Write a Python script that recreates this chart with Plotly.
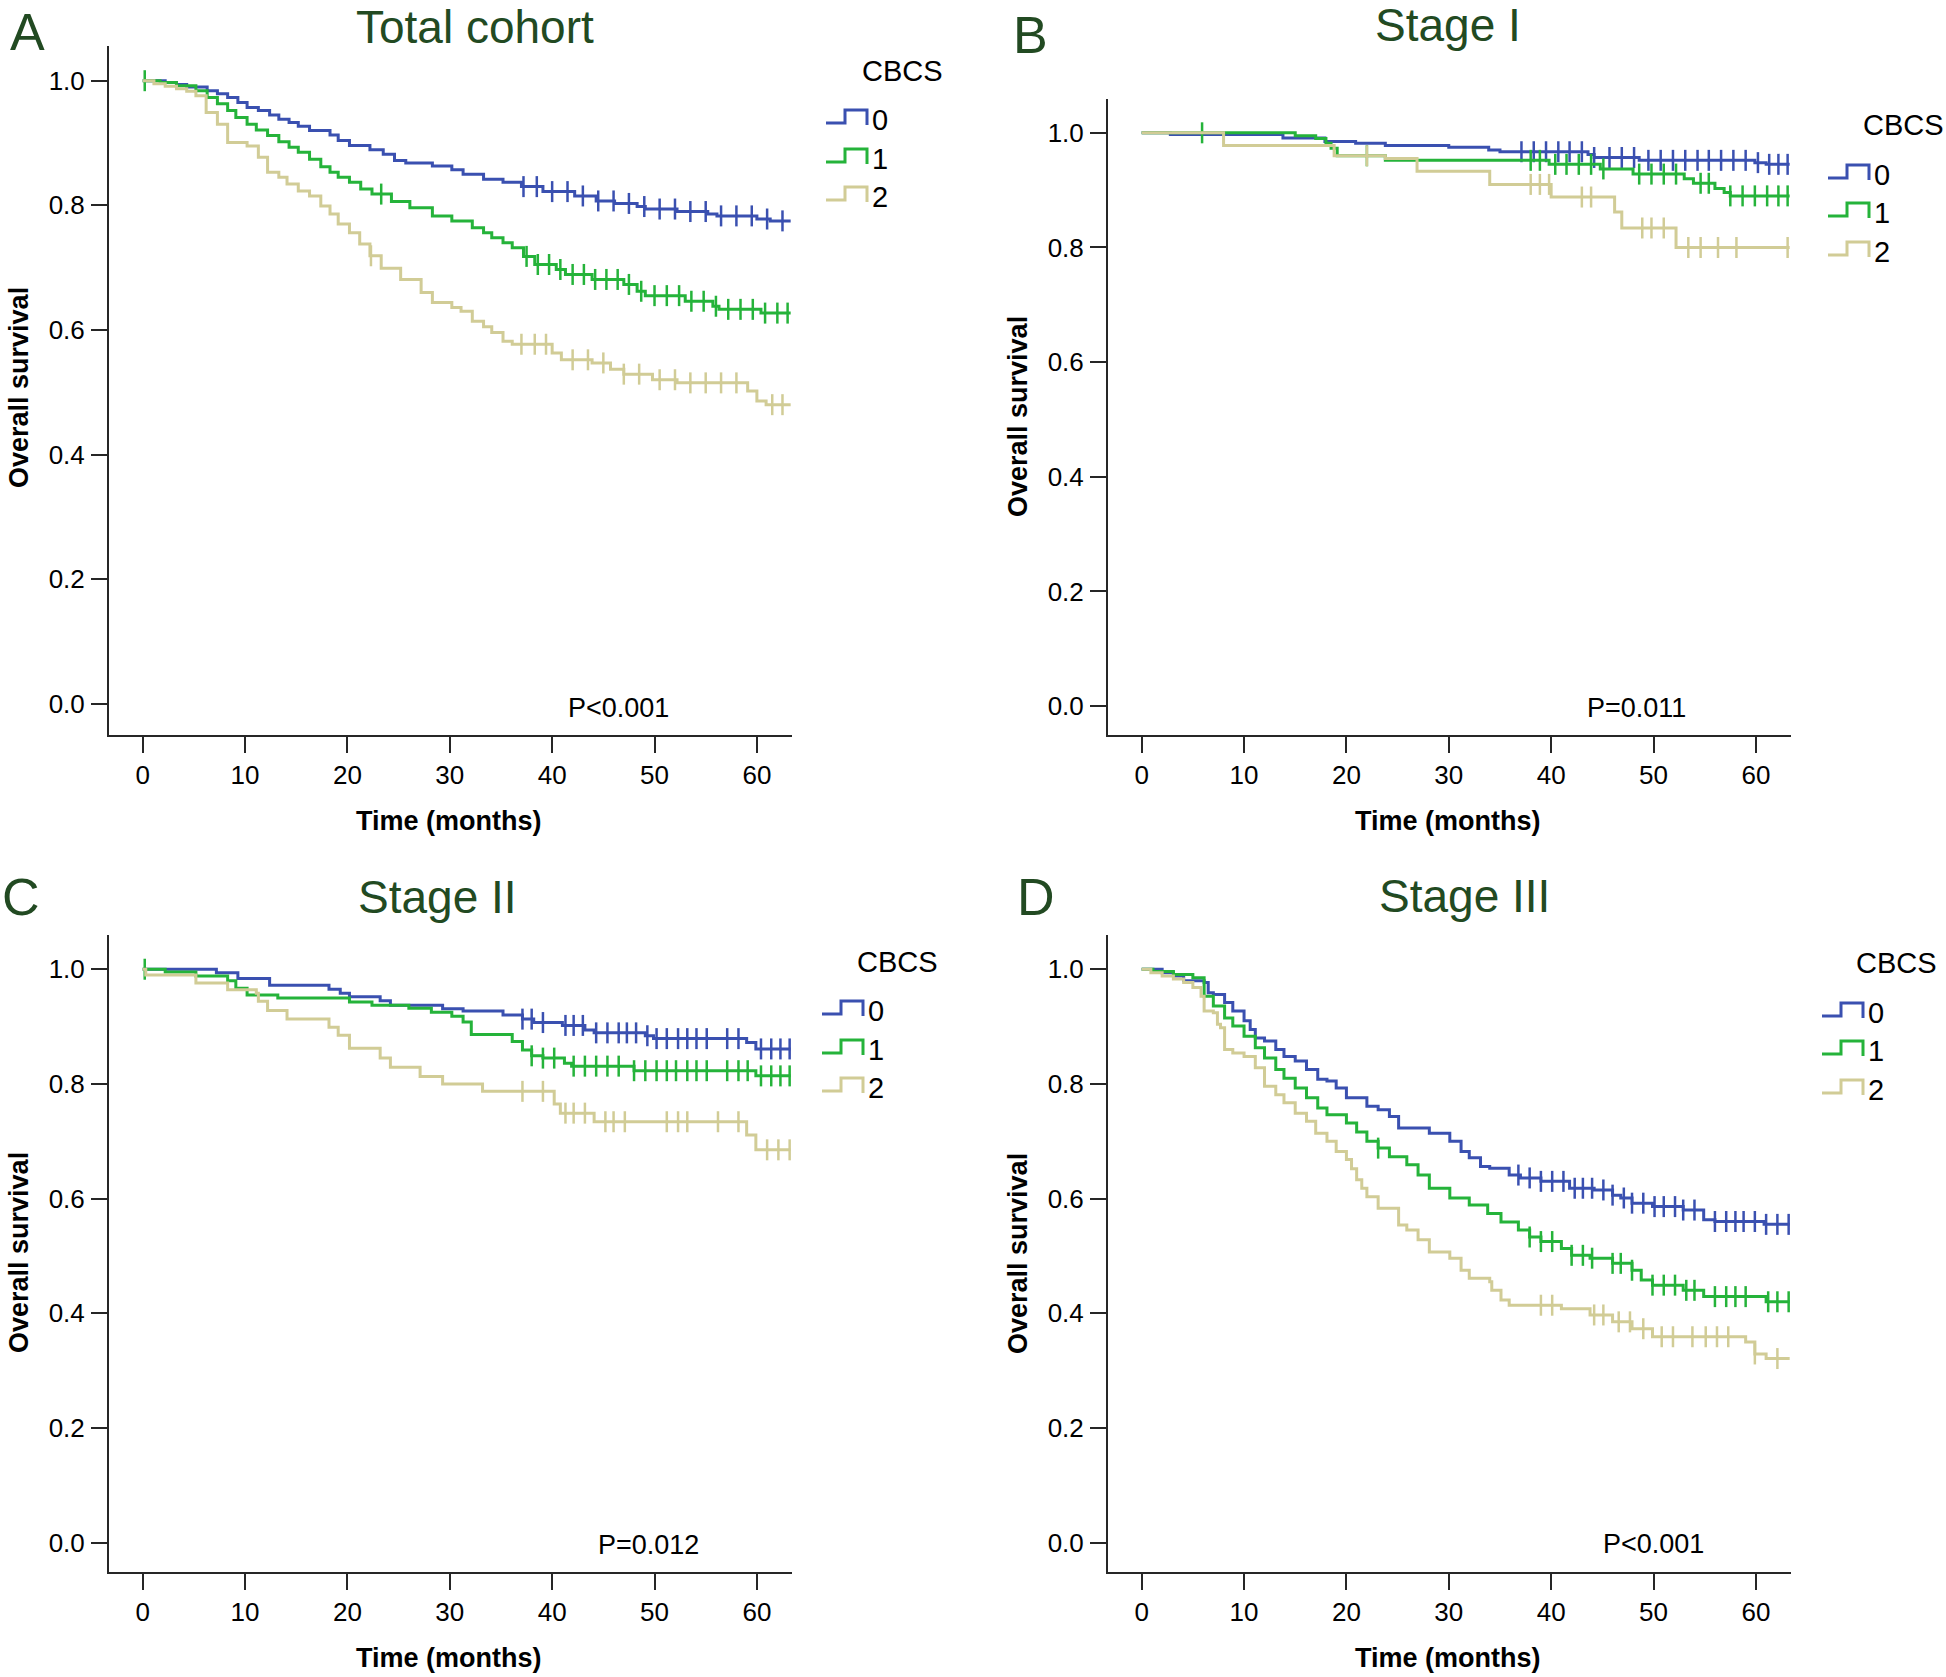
import numpy as np
import plotly.graph_objects as go

W, H = 1946, 1677
BLUE = "#3a50b0"
GREEN = "#25b33a"
TAN = "#d1cc96"
TITLE_COLOR = "#224a22"
FONT = "Liberation Sans, Arial, sans-serif"
T_END = 63.3

GROUPS = ["0", "1", "2"]
COLORS = [BLUE, GREEN, TAN]
X_TICKS = [0, 10, 20, 30, 40, 50, 60]
Y_TICKS = [0.0, 0.2, 0.4, 0.6, 0.8, 1.0]
Y_TICKTEXT = ["0.0", "0.2", "0.4", "0.6", "0.8", "1.0"]
TITLES = ["Total cohort", "Stage I", "Stage II", "Stage III"]
LETTERS = ["A", "B", "C", "D"]
PVALUES = ["P<0.001", "P=0.011", "P=0.012", "P<0.001"]

# ---------------- Panel A: Total cohort ----------------
A0_t = [0, 2.2, 3.3, 4.3, 6.3, 7.3, 8.3, 9.3, 10.2, 11.3, 12.4, 13.3, 14.3, 15.2, 16.3, 18.3, 19.1, 20.2,
        22.2, 23.5, 24.6, 25.7, 28.3, 30.2, 31.3, 33.3, 35.2, 37.0, 39.1, 42.2, 44.3, 46.1, 48.3, 49.1,
        52.2, 55.2, 56.1, 60.0, 61.3]
A0_s = [1.0, 0.997, 0.994, 0.990, 0.984, 0.979, 0.973, 0.965, 0.957, 0.952, 0.945, 0.938, 0.933, 0.927,
        0.920, 0.913, 0.904, 0.896, 0.889, 0.882, 0.872, 0.868, 0.863, 0.857, 0.850, 0.842, 0.837, 0.830,
        0.822, 0.815, 0.807, 0.803, 0.798, 0.794, 0.790, 0.786, 0.783, 0.778, 0.775]
A0_c = [37.2, 38.5, 40.0, 41.5, 43.0, 44.5, 46.0, 47.5, 49.0, 50.5, 52.0, 53.5, 55.0, 56.5, 58.0, 59.5,
        61.0, 62.5]

A1_t = [0, 1.7, 3.3, 5.2, 6.3, 7.3, 8.3, 9.1, 10.2, 11.1, 12.2, 13.3, 14.3, 15.2, 16.3, 17.4, 18.3, 19.1,
        20.2, 21.3, 22.4, 24.3, 26.1, 28.3, 30.2, 32.2, 33.3, 34.1, 35.2, 36.1, 37.2, 38.3, 40.4, 41.3,
        43.9, 47.0, 48.3, 49.1, 53.0, 55.7, 56.3, 60.4]
A1_s = [1.0, 0.997, 0.992, 0.984, 0.973, 0.963, 0.952, 0.941, 0.930, 0.921, 0.912, 0.902, 0.893, 0.885,
        0.874, 0.862, 0.853, 0.845, 0.837, 0.826, 0.818, 0.806, 0.796, 0.783, 0.775, 0.764, 0.756, 0.748,
        0.740, 0.732, 0.718, 0.705, 0.697, 0.689, 0.681, 0.673, 0.662, 0.655, 0.646, 0.638, 0.633, 0.627]
A1_c = [0.2, 23.3, 37.5, 38.6, 39.7, 40.8, 42.0, 43.1, 44.2, 45.3, 46.4, 47.5, 48.7, 50.0, 51.2, 52.4,
        53.6, 54.8, 56.0, 57.2, 58.4, 59.6, 60.8, 62.0, 63.0]

A2_t = [0, 1.1, 2.2, 3.3, 4.3, 5.2, 6.2, 7.3, 8.3, 10.2, 11.3, 12.2, 13.3, 14.1, 15.2, 16.3, 17.4, 18.3,
        19.1, 20.2, 21.2, 22.2, 23.3, 25.2, 27.2, 28.3, 30.2, 31.1, 32.2, 33.3, 34.1, 35.2, 36.1, 40.0,
        40.9, 43.9, 45.7, 47.0, 49.8, 52.2, 59.1, 60.0, 60.9]
A2_s = [1.0, 0.995, 0.991, 0.987, 0.983, 0.976, 0.949, 0.930, 0.901, 0.895, 0.877, 0.853, 0.845, 0.834,
        0.823, 0.815, 0.799, 0.786, 0.770, 0.756, 0.738, 0.719, 0.699, 0.681, 0.660, 0.644, 0.636, 0.630,
        0.614, 0.605, 0.596, 0.582, 0.577, 0.563, 0.552, 0.547, 0.537, 0.529, 0.520, 0.515, 0.502, 0.486,
        0.480]
A2_c = [22.3, 37.0, 38.3, 39.4, 42.0, 43.5, 45.0, 47.0, 48.5, 50.5, 52.0, 53.5, 55.0, 56.5, 58.0, 61.5, 62.5]

# ---------------- Panel B: Stage I ----------------
B0_t = [0, 2.8, 13.8, 17.9, 20.9, 23.8, 30.0, 33.9, 35.0, 43.6, 44.2, 48.6, 59.9, 61.0]
B0_s = [1.0, 0.997, 0.991, 0.985, 0.982, 0.978, 0.975, 0.970, 0.967, 0.962, 0.957, 0.952, 0.948, 0.945]
B0_c = [37.1, 38.3, 39.5, 40.7, 41.8, 43.0, 44.2, 45.7, 46.9, 48.1, 49.5, 50.7, 51.9, 53.1, 54.3, 55.4,
        56.6, 57.8, 59.0, 60.2, 61.3, 62.2, 63.1]

B1_t = [0, 15.0, 17.0, 18.0, 18.5, 19.1, 23.8, 39.8, 44.8, 48.0, 53.0, 53.9, 56.0, 56.9, 57.5]
B1_s = [1.0, 0.995, 0.990, 0.982, 0.973, 0.960, 0.952, 0.945, 0.937, 0.928, 0.920, 0.912, 0.903, 0.896,
        0.890]
B1_c = [5.9, 22.0, 38.0, 38.9, 40.4, 41.5, 42.7, 43.9, 45.1, 48.6, 49.8, 51.0, 52.2, 54.6, 55.4, 57.5,
        58.7, 59.9, 61.1, 62.2, 63.1]

B2_t = [0, 8.0, 18.8, 23.8, 26.9, 34.0, 40.0, 46.2, 46.9, 52.2]
B2_s = [1.0, 0.978, 0.960, 0.955, 0.933, 0.910, 0.888, 0.862, 0.834, 0.800]
B2_c = [22.0, 38.0, 38.9, 39.8, 43.0, 43.9, 48.9, 49.8, 51.0, 53.4, 54.6, 56.3, 58.1, 63.1]

# ---------------- Panel C: Stage II ----------------
C0_t = [0, 7.2, 9.3, 12.4, 18.2, 19.3, 20.2, 23.2, 24.2, 29.3, 31.3, 35.2, 37.1, 38.2, 41.0, 43.2, 44.1,
        49.1, 49.9, 59.0, 59.9]
C0_s = [1.0, 0.994, 0.984, 0.972, 0.965, 0.958, 0.952, 0.945, 0.937, 0.931, 0.927, 0.920, 0.913, 0.907,
        0.902, 0.894, 0.889, 0.884, 0.879, 0.872, 0.861]
C0_c = [37.1, 38.0, 39.1, 41.3, 42.1, 43.0, 44.3, 45.4, 46.5, 47.3, 48.2, 49.3, 50.2, 51.2, 52.3, 53.2,
        54.1, 55.1, 57.1, 58.2, 60.4, 61.4, 62.3, 63.2]

C1_t = [0, 2.2, 5.2, 8.3, 9.1, 10.2, 13.2, 20.2, 22.4, 26.0, 28.2, 30.2, 31.3, 32.1, 36.1, 37.1, 38.0,
        39.1, 41.2, 41.9, 48.0, 59.9]
C1_s = [1.0, 0.995, 0.988, 0.980, 0.967, 0.955, 0.950, 0.943, 0.937, 0.932, 0.925, 0.918, 0.908, 0.886,
        0.874, 0.859, 0.849, 0.845, 0.836, 0.831, 0.823, 0.814]
C1_c = [0.2, 38.0, 39.1, 40.2, 42.1, 43.2, 44.3, 45.4, 46.5, 48.0, 49.1, 50.2, 51.2, 52.1, 53.2, 54.1,
        55.1, 57.1, 58.2, 59.1, 60.4, 61.4, 62.3, 63.2]

C2_t = [0, 0.3, 5.2, 8.3, 11.1, 11.3, 12.2, 14.1, 18.2, 19.1, 20.2, 23.2, 24.2, 27.1, 29.3, 33.2, 40.2,
        40.8, 44.1, 59.0, 59.9]
C2_s = [1.0, 0.990, 0.976, 0.964, 0.958, 0.944, 0.928, 0.913, 0.899, 0.885, 0.862, 0.845, 0.829, 0.813,
        0.800, 0.787, 0.765, 0.749, 0.734, 0.711, 0.685]
C2_c = [37.1, 39.1, 41.3, 42.1, 43.2, 45.2, 46.0, 47.1, 51.2, 52.3, 53.2, 56.2, 58.2, 61.0, 62.1, 63.2]

# ---------------- Panel D: Stage III ----------------
D0_t = [0, 2.0, 3.1, 4.1, 6.1, 6.5, 7.0, 8.1, 8.9, 10.0, 10.6, 11.1, 12.0, 13.1, 13.9, 15.0, 16.1, 17.2,
        18.1, 19.0, 20.0, 22.0, 23.1, 24.2, 25.1, 28.1, 30.1, 31.2, 32.0, 33.1, 34.0, 35.9, 37.0, 39.0,
        41.8, 44.2, 46.0, 46.8, 47.9, 49.9, 52.9, 54.9, 56.0, 60.8]
D0_s = [1.0, 0.994, 0.988, 0.980, 0.977, 0.959, 0.956, 0.942, 0.927, 0.910, 0.895, 0.880, 0.875, 0.860,
        0.848, 0.840, 0.825, 0.808, 0.805, 0.793, 0.776, 0.761, 0.755, 0.743, 0.723, 0.714, 0.700, 0.682,
        0.671, 0.656, 0.653, 0.641, 0.636, 0.630, 0.618, 0.615, 0.606, 0.601, 0.592, 0.586, 0.580, 0.563,
        0.560, 0.555]
D0_c = [36.8, 37.9, 39.0, 40.1, 41.2, 42.3, 43.1, 44.0, 45.1, 46.0, 47.1, 47.9, 49.0, 50.1, 51.0, 52.1,
        52.9, 54.0, 56.0, 57.1, 58.0, 58.8, 59.9, 61.0, 62.1, 63.2]

D1_t = [0, 1.1, 3.1, 5.0, 6.1, 7.0, 8.1, 8.9, 10.0, 11.1, 12.0, 13.1, 13.9, 15.0, 16.1, 17.2, 18.1, 20.0,
        21.0, 22.0, 23.1, 24.2, 25.9, 27.0, 28.1, 30.1, 32.0, 33.8, 35.1, 36.8, 37.9, 39.0, 41.0, 42.0,
        43.8, 46.0, 47.9, 48.8, 49.9, 52.9, 54.9, 61.0]
D1_s = [1.0, 0.996, 0.991, 0.985, 0.953, 0.936, 0.915, 0.901, 0.883, 0.863, 0.845, 0.825, 0.810, 0.793,
        0.776, 0.758, 0.746, 0.732, 0.716, 0.700, 0.688, 0.673, 0.659, 0.641, 0.618, 0.601, 0.589, 0.574,
        0.559, 0.545, 0.533, 0.525, 0.513, 0.501, 0.496, 0.487, 0.475, 0.458, 0.449, 0.440, 0.429, 0.420]
D1_c = [23.1, 37.9, 39.0, 40.1, 42.0, 43.1, 44.0, 46.0, 46.8, 47.9, 49.9, 51.0, 52.1, 53.2, 54.0, 56.0,
        57.1, 58.0, 59.0, 61.2, 62.1, 63.2]

D2_t = [0, 0.9, 2.0, 3.1, 4.1, 5.0, 5.8, 6.1, 7.0, 7.4, 7.7, 8.1, 8.9, 10.0, 11.1, 12.0, 13.1, 13.9, 15.0,
        16.1, 17.0, 18.1, 19.0, 20.0, 20.5, 21.0, 21.5, 22.0, 23.1, 25.1, 25.9, 27.0, 28.1, 30.1, 31.2,
        32.0, 34.0, 34.2, 35.1, 35.9, 41.0, 43.8, 46.0, 47.9, 49.9, 59.0, 59.9, 61.0]
D2_s = [1.0, 0.994, 0.988, 0.983, 0.977, 0.968, 0.953, 0.927, 0.924, 0.904, 0.898, 0.860, 0.854, 0.848,
        0.828, 0.796, 0.781, 0.767, 0.749, 0.735, 0.714, 0.700, 0.682, 0.668, 0.652, 0.633, 0.618, 0.603,
        0.583, 0.554, 0.545, 0.528, 0.507, 0.496, 0.475, 0.461, 0.455, 0.440, 0.423, 0.414, 0.408, 0.397,
        0.385, 0.373, 0.359, 0.350, 0.329, 0.321]
D2_c = [39.0, 40.1, 44.2, 45.1, 46.6, 47.7, 49.0, 50.8, 51.9, 53.8, 55.1, 56.2, 57.3, 59.9, 62.1]

PANELS = [
    [(A0_t, A0_s, A0_c), (A1_t, A1_s, A1_c), (A2_t, A2_s, A2_c)],
    [(B0_t, B0_s, B0_c), (B1_t, B1_s, B1_c), (B2_t, B2_s, B2_c)],
    [(C0_t, C0_s, C0_c), (C1_t, C1_s, C1_c), (C2_t, C2_s, C2_c)],
    [(D0_t, D0_s, D0_c), (D1_t, D1_s, D1_c), (D2_t, D2_s, D2_c)],
]

# ---------------- layout geometry (pixels) ----------------
AREAS = [
    (109, 792, 46, 735, (-0.0502, 1.0557)),
    (1108, 1791, 99, 735, (-0.0504, 1.059)),
    (109, 792, 935, 1572, (-0.0513, 1.0597)),
    (1108, 1791, 935, 1572, (-0.0513, 1.0597)),
]
X_RANGE = (-3.29, 63.43)


def px(x):
    return x / W


def py(y):
    return 1 - y / H


fig = go.Figure()

for p, curves in enumerate(PANELS):
    xa = "x" if p == 0 else f"x{p + 1}"
    ya = "y" if p == 0 else f"y{p + 1}"
    for g, (ts, ss, cs) in enumerate(curves):
        ts_a = np.array(ts, dtype=float)
        ss_a = np.array(ss, dtype=float)
        xs = np.append(ts_a, T_END)
        ys = np.append(ss_a, ss_a[-1])
        fig.add_trace(go.Scatter(
            x=xs, y=ys, mode="lines", line=dict(color=COLORS[g], width=3, shape="hv"),
            xaxis=xa, yaxis=ya, showlegend=False, name=GROUPS[g], hoverinfo="skip"))
        cs_a = np.array(cs, dtype=float)
        idx = np.searchsorted(ts_a, cs_a, side="right") - 1
        fig.add_trace(go.Scatter(
            x=cs_a, y=ss_a[idx], mode="markers",
            marker=dict(symbol="line-ns", size=15, line=dict(color=COLORS[g], width=2.5)),
            xaxis=xa, yaxis=ya, showlegend=False, hoverinfo="skip"))

layout = dict(
    width=W, height=H, margin=dict(l=0, r=0, t=0, b=0),
    paper_bgcolor="white", plot_bgcolor="white",
    font=dict(family=FONT, color="black", size=26),
)

annotations = []
shapes = []

TITLE_POS = [(475, 27), (1448, 25), (437, 897), (1464, 896)]
LETTER_POS = [(27, 1), (1030, 4), (21, 866), (1036, 866)]
PVAL_POS = [(618, 708), (1636, 708), (648, 1545), (1653, 1544)]
YTITLE_POS = [(19, 388), (1018, 416), (19, 1253), (1018, 1253)]
XTITLE_POS = [(449, 821), (1448, 821), (449, 1658), (1448, 1658)]
LEG_TITLE_POS = [(902, 71), (1903, 125), (897, 962), (1896, 963)]
LEG_ICON_X = [826, 1828, 822, 1822]
LEG_ROWS = [(120, 159, 197), (175, 213, 252), (1011, 1050, 1088), (1013, 1051, 1090)]

for p, (x0, x1, yt, yb, yr) in enumerate(AREAS):
    sfx = "" if p == 0 else str(p + 1)
    axis_common = dict(showline=True, linecolor="#262626", linewidth=2, showgrid=False, zeroline=False,
                       ticks="outside", tickcolor="#262626", tickwidth=2,
                       tickfont=dict(family=FONT, size=26, color="black"), fixedrange=True)
    layout["xaxis" + sfx] = dict(axis_common, domain=[px(x0), px(x1)], range=list(X_RANGE),
                                 anchor="y" + sfx, tickvals=X_TICKS, ticklen=16, ticklabelstandoff=0)
    layout["yaxis" + sfx] = dict(axis_common, domain=[py(yb), py(yt)], range=list(yr),
                                 anchor="x" + sfx, tickvals=Y_TICKS, ticktext=Y_TICKTEXT, ticklen=16,
                                 ticklabelstandoff=1)

    annotations.append(dict(text=TITLES[p], x=px(TITLE_POS[p][0]), y=py(TITLE_POS[p][1]), xref="paper",
                            yref="paper", xanchor="center", yanchor="middle", showarrow=False,
                            font=dict(family=FONT, size=46, color=TITLE_COLOR)))
    annotations.append(dict(text=LETTERS[p], x=px(LETTER_POS[p][0]), y=py(LETTER_POS[p][1]), xref="paper",
                            yref="paper", xanchor="center", yanchor="top", showarrow=False,
                            font=dict(family=FONT, size=52, color=TITLE_COLOR)))
    annotations.append(dict(text=PVALUES[p], x=px(PVAL_POS[p][0]), y=py(PVAL_POS[p][1]), xref="paper",
                            yref="paper", xanchor="center", yanchor="middle", showarrow=False,
                            font=dict(family=FONT, size=27, color="black")))
    annotations.append(dict(text="<b>Overall survival</b>", x=px(YTITLE_POS[p][0]), y=py(YTITLE_POS[p][1]),
                            xref="paper", yref="paper", xanchor="center", yanchor="middle", textangle=-90,
                            showarrow=False, font=dict(family=FONT, size=27, color="black")))
    annotations.append(dict(text="<b>Time (months)</b>", x=px(XTITLE_POS[p][0]), y=py(XTITLE_POS[p][1]),
                            xref="paper", yref="paper", xanchor="center", yanchor="middle",
                            showarrow=False, font=dict(family=FONT, size=27, color="black")))
    # custom legend
    annotations.append(dict(text="CBCS", x=px(LEG_TITLE_POS[p][0]), y=py(LEG_TITLE_POS[p][1]),
                            xref="paper", yref="paper", xanchor="center", yanchor="middle",
                            showarrow=False, font=dict(family=FONT, size=29, color="black")))
    lx = LEG_ICON_X[p]
    for g, yc in enumerate(LEG_ROWS[p]):
        path = (f"M {px(lx)},{py(yc + 3)} L {px(lx + 19)},{py(yc + 3)} L {px(lx + 19)},{py(yc - 10)} "
                f"L {px(lx + 41)},{py(yc - 10)} L {px(lx + 41)},{py(yc + 5)}")
        shapes.append(dict(type="path", path=path, xref="paper", yref="paper",
                           line=dict(color=COLORS[g], width=3)))
        annotations.append(dict(text=GROUPS[g], x=px(lx + 44), y=py(yc), xref="paper",
                                yref="paper", xanchor="left", yanchor="middle", showarrow=False,
                                font=dict(family=FONT, size=29, color="black")))

layout["annotations"] = annotations
layout["shapes"] = shapes
fig.update_layout(**layout)
fig.write_html("out.html", config={"displayModeBar": False},
               post_script="document.body.style.margin='0px';document.body.style.overflow='hidden';")
